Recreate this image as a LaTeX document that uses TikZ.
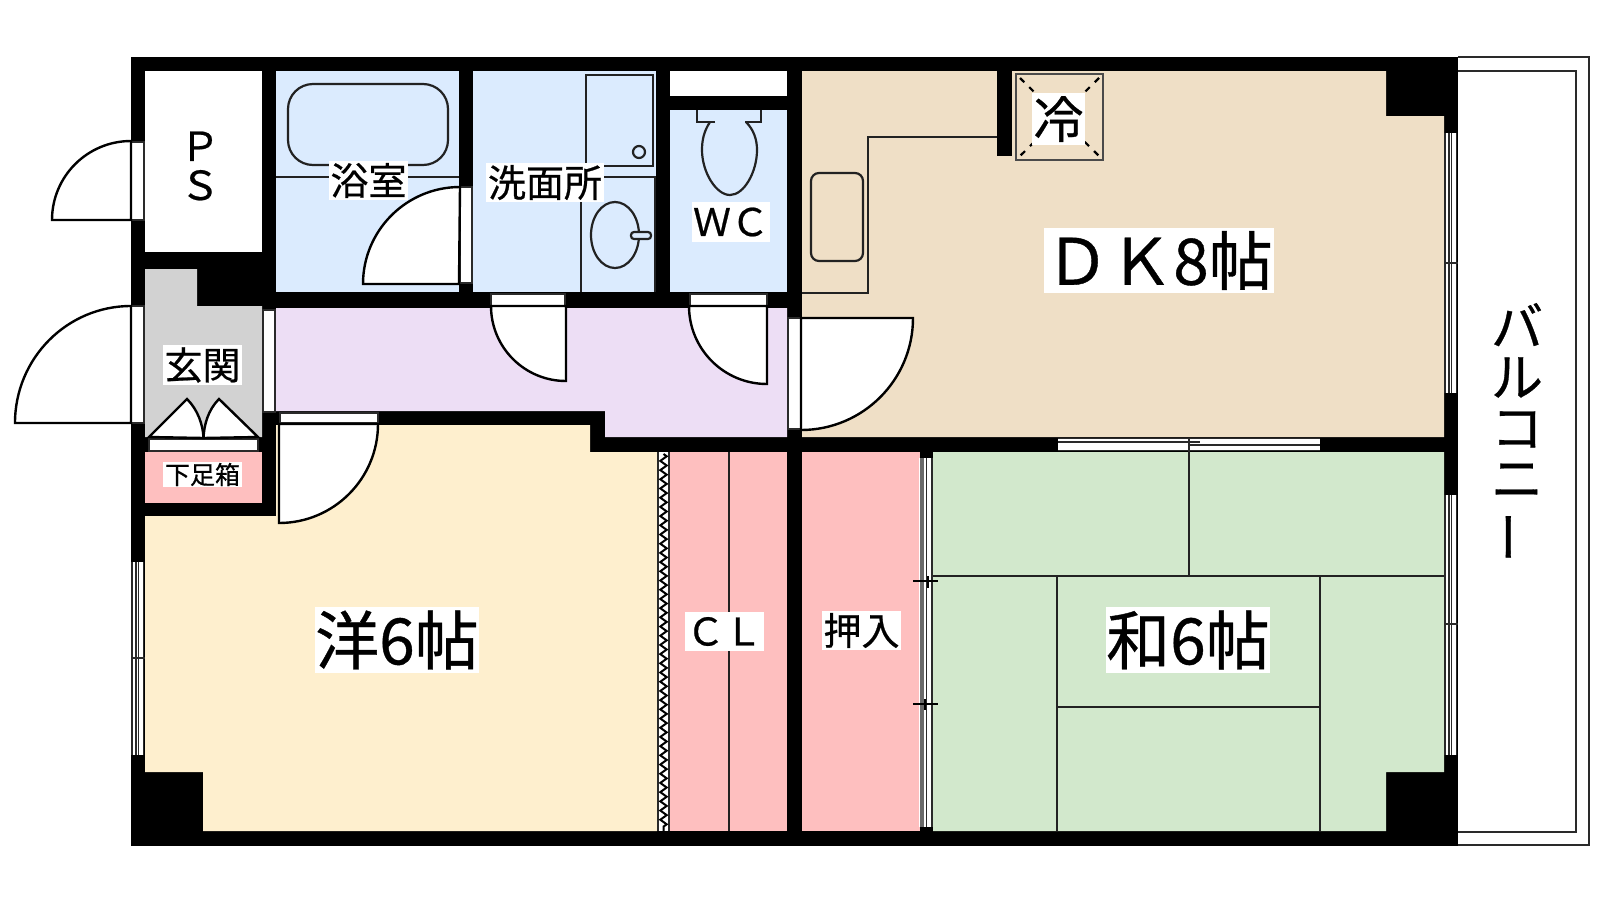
\documentclass[tikz,border=0pt]{standalone}
\usepackage{fontspec}
\setmainfont{Noto Sans CJK JP}[FakeBold=0.6]
\usetikzlibrary{decorations.pathmorphing}
\definecolor{cblue}{HTML}{DBEBFE}
\definecolor{cpurple}{HTML}{EDDEF5}
\definecolor{ctan}{HTML}{EFDFC6}
\definecolor{cyellow}{HTML}{FEEFCE}
\definecolor{cpink}{HTML}{FEBFBF}
\definecolor{cgreen}{HTML}{D2E8CC}
\definecolor{cgray}{HTML}{D2D2D2}
\definecolor{cline}{HTML}{222222}
\definecolor{cframe}{HTML}{2A2A2A}
\tikzset{
  thinline/.style={draw=cline,line width=1pt},
  frameline/.style={draw=cframe,fill=white,line width=.9pt},
  leaf/.style={draw=black,fill=white,line width=1.2pt,line join=miter},
  winline/.style={draw=cframe,line width=.95pt},
  fixture/.style={draw=cline,line width=1.1pt},
  balc/.style={draw=cframe,line width=1.2pt},
  lbl/.style={inner sep=0pt,text=black},
}
\newcommand{\lab}[7]{%
  \fill[white] (#2,#3) rectangle (#4,#5);
  \node[lbl] (#1) at ({(#2+#4)/2},{(#3+#5)/2}) {\fontsize{#6}{#6}\selectfont #7};}
\newcommand{\winvert}[4]{% x-left, y1, y2, ticky
  \fill[white] (#1,#2) rectangle ({#1+13},#3);
  \draw[winline] ({#1+1},#2) -- ({#1+1},#3) ({#1+5},#2) -- ({#1+5},#3)
                 ({#1+7.5},#2) -- ({#1+7.5},#3) ({#1+12.5},#2) -- ({#1+12.5},#3)
                 (#1,#4) -- ({#1+14},#4) ({#1+7.5},{#4-6}) -- ({#1+7.5},{#4+6});}
\begin{document}
\begin{tikzpicture}[x=.5pt,y=-.5pt]
\useasboundingbox (0,0) rectangle (1600,900);
\fill[white] (0,0) rectangle (1600,900);
% building block
\fill[black] (131,57) rectangle (1458,846);
% rooms
\fill[white] (145,71) rectangle (262,252);
\fill[cblue] (276,71) rectangle (459,292);
\fill[cblue] (473,71) rectangle (656,292);
\fill[cblue] (670,110) rectangle (787,292);
\fill[white] (670,71) rectangle (787,96);
\fill[ctan] (802,71) -- (1386,71) -- (1386,116) -- (1444,116) -- (1444,437) -- (802,437) -- cycle;
\fill[black] (997,71) rectangle (1012,156);
\fill[cpurple] (276,308) -- (787,308) -- (787,437) -- (605,437) -- (605,411) -- (276,411) -- cycle;
\fill[cgray] (145,269) -- (197,269) -- (197,306) -- (262,306) -- (262,437) -- (145,437) -- cycle;
\fill[cpink] (145,452) rectangle (262,503);
\fill[cyellow] (145,516) -- (276,516) -- (276,425) -- (590,425) -- (590,452) -- (657,452) -- (657,831) -- (203,831) -- (203,772) -- (145,772) -- cycle;
\fill[cpink] (670,452) rectangle (787,831);
\fill[cpink] (802,452) rectangle (920,831);
\fill[cgreen] (933,452) -- (1444,452) -- (1444,772) -- (1386,772) -- (1386,831) -- (933,831) -- cycle;
% balcony
\fill[white] (1458,57) rectangle (1589,846);
\draw[balc] (1458,57) -- (1589,57) -- (1589,845) -- (1458,845);
\draw[balc] (1458,71) -- (1576,71) -- (1576,832) -- (1458,832);
% closet lines and tatami
\draw[thinline] (729,452) -- (729,831);
\draw[thinline] (933,575.5) -- (1444,575.5);
\draw[thinline] (1189,452) -- (1189,575.5);
\draw[thinline] (1057,575.5) -- (1057,831);
\draw[thinline] (1320,575.5) -- (1320,831);
\draw[thinline] (1057,707) -- (1320,707);
% bath
\draw[thinline] (276,177) -- (459,177);
\draw[fixture,rounded corners=12.5pt] (288,84) rectangle (448,165);
% washroom fixtures
\draw[fixture] (586,166) -- (586,75) -- (653,75) -- (653,166) -- cycle;
\draw[fixture] (639,152) circle[radius=6];
\draw[fixture] (581,292) -- (581,177) -- (655,177) -- (655,292);
\draw[fixture] (615,235) ellipse[x radius=24,y radius=33];
\draw[fixture,fill=cblue,rounded corners=1.5pt] (631,232) rectangle (651,239);
% toilet
\draw[fixture] (697,110) -- (697,122) -- (715,122);
\draw[fixture] (745,122) -- (761,122) -- (761,110);
\draw[fixture] (710,122) .. controls (704,131) and (702,140) .. (702,150)
   .. controls (702,172) and (716,195) .. (730,195)
   .. controls (744,195) and (757,172) .. (757,150)
   .. controls (757,140) and (754,130) .. (746,122);
\draw[fixture] (715,122) -- (710,122) (745,122) -- (746,122);
% kitchen
\draw[thinline] (802,293) -- (868,293) -- (868,137) -- (997,137);
\draw[fixture,rounded corners=4pt] (811,173) rectangle (863,261);
% fridge
\draw[draw=cframe!85,line width=1.4pt] (1016,74) rectangle (1103,160);
\draw[black,line width=1.1pt,dash pattern=on 3pt off 3.5pt] (1020,78) -- (1099,156);
\draw[black,line width=1.1pt,dash pattern=on 3pt off 3.5pt] (1099,78) -- (1020,156);
% outer doors
\draw[frameline] (131,142) rectangle (144,220);
\draw[leaf] (131,220) -- (52,220) arc[start angle=180,end angle=270,radius=79] -- cycle;
\draw[frameline] (131,306) rectangle (144,423);
\draw[leaf] (131,423) -- (15,423) arc[start angle=180,end angle=270,x radius=116,y radius=117] -- cycle;
% entrance inner frame
\draw[frameline] (263,310) rectangle (275,412);
% shoe cupboard doors
\draw[frameline] (149,439) rectangle (258,451);
\draw[leaf] (149,437) -- (187,399) .. controls (198,410) and (203,425) .. (203.5,438) -- cycle;
\draw[leaf] (258,437) -- (219,399) .. controls (208,410) and (204,425) .. (203.5,438) -- cycle;
% western room door
\draw[frameline] (280,413) rectangle (378,423);
\draw[leaf] (279,424) -- (378,424) arc[start angle=0,end angle=90,radius=99] -- cycle;
% bath door
\draw[frameline] (460,187) rectangle (472,283);
\draw[leaf] (459,284) -- (363,284) arc[start angle=180,end angle=270,radius=97] -- cycle;
% wash door
\draw[frameline] (491,294) rectangle (565,306);
\draw[leaf] (566,306) -- (491,306) arc[start angle=180,end angle=90,radius=75] -- cycle;
% wc door
\draw[frameline] (690,294) rectangle (767,306);
\draw[leaf] (767,306) -- (689,306) arc[start angle=180,end angle=90,radius=78] -- cycle;
% dk door
\draw[frameline] (788,318) rectangle (801,429);
\draw[leaf] (801,430) -- (801,318) -- (913,318) arc[start angle=0,end angle=90,radius=112] -- cycle;
% closet folding door
\fill[white] (657,452) rectangle (670,831);
\draw[winline] (658,452) -- (658,831) (669,452) -- (669,831);
\draw[black,line width=1pt,decorate,decoration={zigzag,segment length=4.6pt,amplitude=1.6pt}] (663.5,454) -- (663.5,831);
% oshiire sliding door
\fill[white] (919,458) rectangle (933,827);
\draw[draw=cframe!70,line width=2pt] (922,458) -- (922,827);
\draw[winline] (926.5,458) -- (926.5,827) (932,458) -- (932,827);
\draw[black,line width=1pt] (913,581) -- (938,581) (928,576) -- (928,588);
\draw[black,line width=1pt] (913,704) -- (938,704) (925,699) -- (925,710);
% windows
\winvert{131}{562}{755}{658}
\winvert{1444}{133}{393}{263}
\winvert{1444}{495}{755}{624}
% top window between DK and washitsu
\fill[white] (1058,438) rectangle (1320,451);
\draw[winline] (1058,438.5) -- (1320,438.5) (1058,442) -- (1200,442) (1189,445) -- (1320,445) (1058,450.5) -- (1320,450.5);
\draw[winline] (1189,438) -- (1189,452);
% labels
\node[lbl,align=center,font=\fontsize{20}{19.5}\selectfont] (ps) at (200,166) {Ｐ\\Ｓ};
\lab{bath}{329}{161}{408}{200}{19pt}{浴室}
\lab{wash}{486}{163}{604}{202}{19pt}{洗面所}
\lab{wc}{692}{202}{770}{242}{19pt}{ＷＣ}
\lab{genkan}{163}{345}{242}{385}{19pt}{玄関}
\lab{geta}{163}{462}{242}{487}{12.5pt}{下足箱}
\lab{cold}{1032}{93}{1085}{145}{25pt}{冷}
\lab{dk}{1044}{228}{1274}{293}{32pt}{ＤＫ8帖}
\lab{yo}{315}{607}{479}{673}{32pt}{洋6帖}
\lab{wa}{1106}{607}{1270}{673}{32pt}{和6帖}
\lab{cl}{685}{612}{764}{651}{19pt}{ＣＬ}
\lab{oshi}{822}{611}{901}{650}{19pt}{押入}
\node[lbl,align=center,font=\fontsize{26}{25.3}\selectfont] (balcony) at (1517,433) {バ\\ル\\コ\\ニ\\\rotatebox[origin=c]{90}{ー}};
\end{tikzpicture}
\end{document}
